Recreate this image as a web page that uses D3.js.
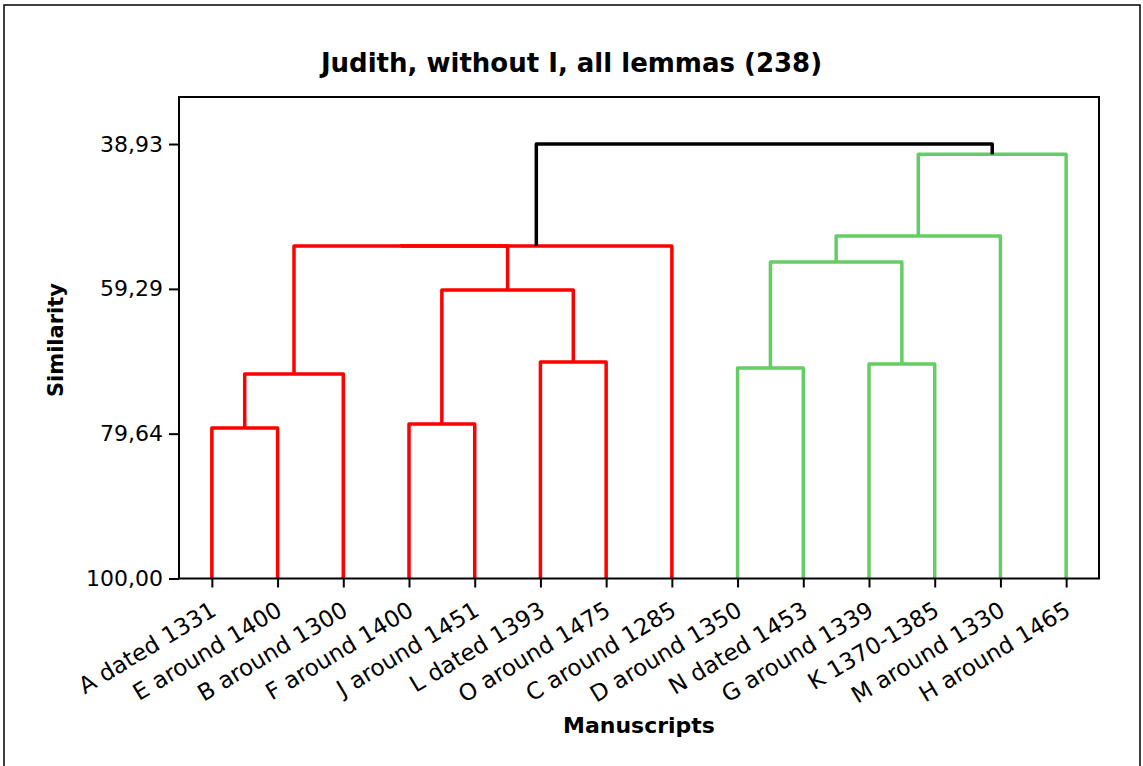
<html>
<head>
    <meta charset="UTF-8">
    <title>Dendrogram</title>
    <script src="https://cdnjs.cloudflare.com/ajax/libs/d3/7.8.5/d3.min.js"></script>
    <style>
        body { margin: 0; background: #fff; }
        text { font-family: "DejaVu Sans", sans-serif; fill: #000; }
        .tick text { font-size: 22px; }
        .axisTitle { font-weight: bold; }
    </style>
</head>
<body>
    <svg id="chart" width="1143" height="766"></svg>
    <script>
        // leaves in plotted order, and the cluster each belongs to
        var leaves = ["A dated 1331", "E around 1400", "B around 1300", "F around 1400",
            "J around 1451", "L dated 1393", "O around 1475", "C around 1285",
            "D around 1350", "N dated 1453", "G around 1339", "K 1370-1385",
            "M around 1330", "H around 1465"];
        var leafGroup = [1, 1, 1, 1, 1, 1, 1, 1, 2, 2, 2, 2, 2, 2];

        // merges: id, left child, right child, similarity
        var mergeId = ["AE", "FJ", "DN", "GK", "AEB", "LO", "FJLO", "DNGK", "R1", "R", "G1", "G", "ALL"];
        var mergeLeft = ["A dated 1331", "F around 1400", "D around 1350", "G around 1339", "AE", "L dated 1393", "FJ", "DN", "AEB", "R1", "DNGK", "G1", "R"];
        var mergeRight = ["E around 1400", "J around 1451", "N dated 1453", "K 1370-1385", "B around 1300", "O around 1475", "LO", "GK", "FJLO", "C around 1285", "M around 1330", "H around 1465", "G"];
        var mergeSim = [78.85, 78.28, 70.41, 69.85, 71.26, 69.57, 59.45, 55.52, 53.28, 53.27, 51.86, 40.38, 38.93];

        var yTicks = [38.93, 59.29, 79.64, 100];

        var svg = d3.select("#chart");
        var pLeft = 179, pRight = 1099, pTop = 97, pBottom = 578.5;

        var x = d3.scalePoint().domain(leaves).range([pLeft, pRight]).padding(0.5);
        var y = d3.scaleLinear().domain([32.32, 100]).range([pTop, pBottom]);

        var groupColor = d3.scaleOrdinal().domain([1, 2, 0]).range(["#ff0000", "#66cc66", "#000000"]);

        // outer frame
        svg.append("rect")
            .attr("x", 4).attr("y", 5)
            .attr("width", 1136).attr("height", 780)
            .style("fill", "none").style("stroke", "#000").style("stroke-width", 1.5);

        // node positions
        var nodes = {};
        leaves.forEach((d, i) => {
            nodes[d] = { x: x(d), sim: 100, group: leafGroup[i] };
        });

        var links = [];
        mergeId.forEach((id, i) => {
            var a = nodes[mergeLeft[i]], b = nodes[mergeRight[i]];
            var g = a.group == b.group ? a.group : 0;
            nodes[id] = { x: (a.x + b.x) / 2, sim: mergeSim[i], group: g };
            links.push({ a: a, b: b, sim: mergeSim[i], group: g });
        });

        svg.selectAll("path.link")
            .data(links)
            .enter()
            .append("path")
            .attr("class", "link")
            .attr("d", d => `M${d.a.x},${y(d.a.sim)}V${y(d.sim)}H${d.b.x}V${y(d.b.sim)}`)
            .style("fill", "none")
            .style("stroke", d => groupColor(d.group))
            .style("stroke-width", 3.5)
            .style("stroke-linejoin", "round");

        // axes
        var commaFmt = d => d3.format(".2f")(d).replace(".", ",");
        svg.append("g")
            .attr("transform", `translate(${pLeft},0)`)
            .call(d3.axisLeft(y).tickValues(yTicks).tickFormat(commaFmt).tickSize(10).tickPadding(6));

        svg.append("g")
            .attr("transform", `translate(0,${pBottom})`)
            .call(d3.axisBottom(x).tickSize(9).tickFormat(""));

        svg.selectAll(".domain").remove();
        svg.selectAll(".tick line").style("stroke", "#000").style("stroke-width", 2);

        svg.selectAll("text.leaf")
            .data(leaves)
            .enter()
            .append("text")
            .attr("class", "leaf")
            .attr("transform", d => `translate(${x(d) + 6},${pBottom + 36}) rotate(-31)`)
            .style("text-anchor", "end")
            .style("font-size", "23px")
            .text(d => d);

        // plot frame
        svg.append("rect")
            .attr("x", pLeft).attr("y", pTop)
            .attr("width", pRight - pLeft).attr("height", pBottom - pTop)
            .style("fill", "none").style("stroke", "#000").style("stroke-width", 2);

        // titles
        svg.append("text")
            .attr("class", "axisTitle")
            .attr("x", 571.5).attr("y", 72)
            .style("text-anchor", "middle")
            .style("font-size", "26px")
            .text("Judith, without I, all lemmas (238)");

        svg.append("text")
            .attr("class", "axisTitle")
            .attr("x", (pLeft + pRight) / 2).attr("y", 733)
            .style("text-anchor", "middle")
            .style("font-size", "22px")
            .text("Manuscripts");

        svg.append("text")
            .attr("class", "axisTitle")
            .attr("transform", "translate(63,340) rotate(-90)")
            .style("text-anchor", "middle")
            .style("font-size", "21px")
            .text("Similarity");
    </script>
</body>
</html>
